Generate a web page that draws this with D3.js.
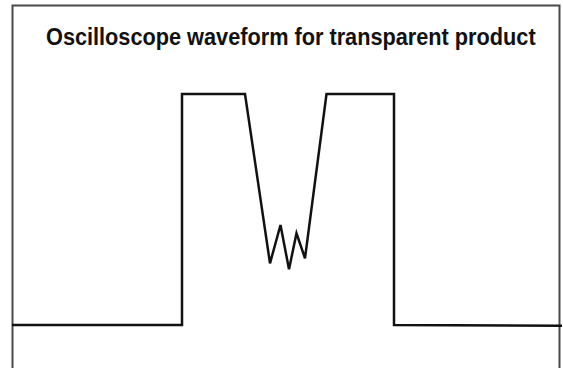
<!DOCTYPE html>
<html>
<head>
<meta charset="utf-8">
<script src="https://cdn.jsdelivr.net/npm/d3@7"></script>
<style>
  html, body { margin: 0; padding: 0; background: #fff; overflow: hidden; }
  svg { display: block; }
</style>
</head>
<body>
<svg></svg>
<script>
// waveform samples (time in arbitrary units, level 0 = low, 1 = high)
const times = [0, 34, 34, 46.6, 51.6, 53.7, 55.4, 56.9, 58.6, 62.9, 76.4, 76.4, 110]
const levels = [0, 0, 1, 1, 0.267, 0.433, 0.241, 0.397, 0.289, 1, 1, 0, -0.003]
const title = "Oscilloscope waveform for transparent product"

const width = 563
const height = 368

const svg = d3.select("svg")
      .attr("width", width)
      .attr("height", height)

const x = d3.scaleLinear().domain([0, 110]).range([12, 562])
const y = d3.scaleLinear().domain([0, 1]).range([325, 94])

// screen frame (open at the bottom, it runs past the picture)
svg.append("path")
      .attr("d", "M12.5,368V5.5H559.5V368")
      .attr("fill", "none")
      .attr("stroke", "#4a4a4a")
      .attr("stroke-width", 2)

// title is a squeezed bold sans, so scale it horizontally to the width seen
const titleG = svg.append("g")
const titleText = titleG.append("text")
      .attr("x", 0)
      .attr("y", 0)
      .attr("font-family", "Liberation Sans, Arial, sans-serif")
      .attr("font-weight", "bold")
      .attr("font-size", 23.5)
      .attr("fill", "#111")
      .text(title)
const natural = titleText.node().getComputedTextLength()
titleG.attr("transform", `translate(46,45) scale(${490 / natural},1)`)

const line = d3.line()
      .x((d, i) => x(times[i]))
      .y(d => y(d))

svg.append("path")
      .datum(levels)
      .attr("d", line)
      .attr("fill", "none")
      .attr("stroke", "#111")
      .attr("stroke-width", 2.5)
      .attr("stroke-linejoin", "miter")
</script>
</body>
</html>
